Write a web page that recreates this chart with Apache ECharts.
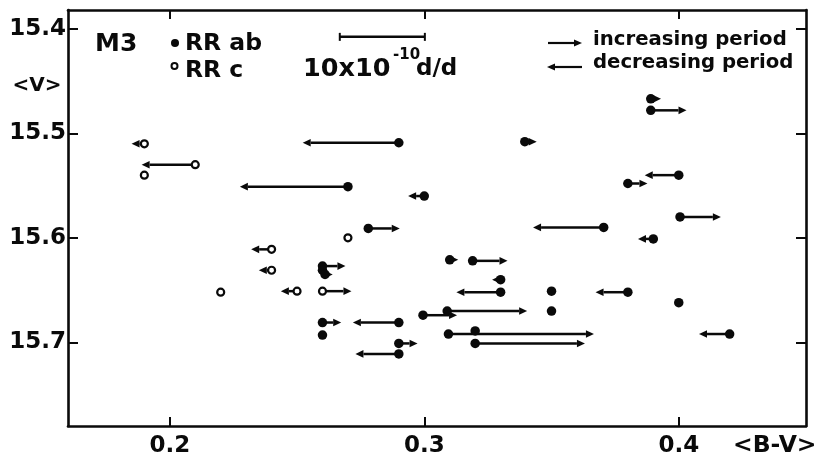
<!DOCTYPE html>
<html>
<head>
<meta charset="utf-8">
<script src="https://cdn.jsdelivr.net/npm/echarts@6/dist/echarts.min.js"></script>
<style>html,body{margin:0;padding:0;background:#fff}#c{width:823px;height:466px}</style>
</head>
<body>
<div id="c"></div>
<script>
// ---- data (B-V colour, mean V magnitude, period change rate in 1e-10 d/d) ----
const abBV   = [0.290, 0.270, 0.300, 0.278, 0.260, 0.260, 0.261, 0.260, 0.260, 0.290, 0.290, 0.290,
                0.389, 0.389, 0.3395, 0.400, 0.380, 0.4005, 0.3705, 0.390, 0.310, 0.319, 0.330, 0.330,
                0.350, 0.380, 0.400, 0.309, 0.350, 0.2995, 0.3095, 0.320, 0.320, 0.420];
const abV    = [15.509, 15.551, 15.560, 15.591, 15.627, 15.631, 15.635, 15.681, 15.693, 15.681, 15.701, 15.711,
                15.467, 15.478, 15.508, 15.540, 15.548, 15.580, 15.590, 15.601, 15.621, 15.622, 15.640, 15.652,
                15.651, 15.652, 15.662, 15.670, 15.670, 15.674, 15.692, 15.689, 15.701, 15.692];
const abRate = [-11.3, -12.7, -1.9, 3.7, 2.7, 0, 0.9, 2.2, 0, -5.4, 2.2, -5.1,
                1.2, 4.2, 1.4, -4.0, 2.3, 4.8, -8.3, -1.8, 1.0, 4.1, -1.0, -5.2,
                0, -3.8, 0, 9.4, 0, 4.0, 17.1, 0, 12.9, -3.6];

const cBV    = [0.190, 0.210, 0.190, 0.270, 0.240, 0.240, 0.250, 0.220, 0.260];
const cV     = [15.510, 15.530, 15.540, 15.600, 15.611, 15.631, 15.651, 15.652, 15.651];
const cRate  = [-1.5, -6.3, 0, 0, -2.4, -1.5, -1.9, 0, 3.4];

const xTicks = [0.2, 0.3, 0.4];
const yTicks = [15.4, 15.5, 15.6, 15.7];
const scaleBar = [0.2668, 15.4077, 10];   // 10 x 1e-10 d/d reference bar
const UNIT = 0.003343;                      // B-V units per 1e-10 d/d (from scale bar)

const INK = '#0a0a0a';
const FONT = 'DejaVu Sans';

const arrowData = [];
abBV.forEach((b, i) => { if (abRate[i] !== 0) arrowData.push([b, abV[i], abRate[i]]); });
cBV.forEach((b, i) => { if (cRate[i] !== 0) arrowData.push([b, cV[i], cRate[i]]); });

function renderArrow(params, api) {
  const x = api.value(0), y = api.value(1), r = api.value(2);
  const p0 = api.coord([x, y]);
  const p1 = api.coord([x + r * UNIT, y]);
  const dir = p1[0] >= p0[0] ? 1 : -1;
  const head = 8, hw = 3.8;
  const base = p1[0] - dir * head;
  return {
    type: 'group',
    children: [
      { type: 'line', shape: { x1: p0[0], y1: p0[1], x2: base, y2: p1[1] }, style: { stroke: INK, lineWidth: 2.5 } },
      { type: 'polygon', shape: { points: [[p1[0], p1[1]], [base, p1[1] - hw], [base, p1[1] + hw]] }, style: { fill: INK } }
    ]
  };
}

function renderScale(params, api) {
  const x = api.value(0), y = api.value(1), r = api.value(2);
  const p0 = api.coord([x, y]);
  const p1 = api.coord([x + r * UNIT, y]);
  return {
    type: 'group',
    children: [
      { type: 'line', shape: { x1: p0[0], y1: p0[1], x2: p1[0], y2: p1[1] }, style: { stroke: INK, lineWidth: 2.5 } },
      { type: 'line', shape: { x1: p0[0], y1: p0[1] - 4, x2: p0[0], y2: p0[1] + 4 }, style: { stroke: INK, lineWidth: 2 } },
      { type: 'line', shape: { x1: p1[0], y1: p1[1] - 4, x2: p1[0], y2: p1[1] + 4 }, style: { stroke: INK, lineWidth: 2 } }
    ]
  };
}

const axisLine = { show: true, lineStyle: { color: INK, width: 2.6 } };
const xTick = { show: true, inside: true, length: 9, customValues: xTicks, lineStyle: { color: INK, width: 2 } };
const yTick = { show: true, inside: true, length: 10, customValues: yTicks, lineStyle: { color: INK, width: 2 } };

function txt(text, x, y, size, align) {
  return { type: 'text', x: x, y: y, style: { text: text, font: 'bold ' + size + 'px "' + FONT + '"', fill: INK,
           textAlign: align || 'left', textVerticalAlign: 'middle' } };
}

const chart = echarts.init(document.getElementById('c'), null, { renderer: 'canvas' });
chart.setOption({
  animation: false,
  backgroundColor: '#fff',
  grid: { left: 68, right: 17, top: 10, bottom: 40 },
  xAxis: [
    { type: 'value', position: 'bottom', min: 0.16, max: 0.45, axisLine: axisLine, axisTick: xTick,
      splitLine: { show: false },
      axisLabel: { customValues: xTicks, formatter: v => v.toFixed(1), color: INK, fontSize: 23, fontWeight: 'bold',
                   fontFamily: FONT, margin: 9 } },
    { type: 'value', position: 'top', min: 0.16, max: 0.45, axisLine: axisLine, axisTick: xTick,
      splitLine: { show: false }, axisLabel: { show: false } }
  ],
  yAxis: [
    { type: 'value', position: 'left', inverse: true, min: 15.382, max: 15.78, axisLine: axisLine, axisTick: yTick,
      splitLine: { show: false },
      axisLabel: { customValues: yTicks, formatter: v => v.toFixed(1), color: INK, fontSize: 23, fontWeight: 'bold',
                   fontFamily: FONT, margin: 2 } },
    { type: 'value', position: 'right', inverse: true, min: 15.382, max: 15.78, axisLine: axisLine, axisTick: yTick,
      splitLine: { show: false }, axisLabel: { show: false } }
  ],
  series: [
    { type: 'custom', name: 'period change', renderItem: renderArrow, data: arrowData, z: 2, silent: true },
    { type: 'custom', name: 'scale', renderItem: renderScale, data: [scaleBar], z: 2, silent: true },
    { type: 'scatter', name: 'RR ab', data: abBV.map((b, i) => [b, abV[i]]), symbol: 'circle', symbolSize: 9.5,
      itemStyle: { color: INK, opacity: 1 }, z: 3 },
    { type: 'scatter', name: 'RR c', data: cBV.map((b, i) => [b, cV[i]]), symbol: 'circle', symbolSize: 7,
      itemStyle: { color: '#fff', borderColor: INK, borderWidth: 2.2, opacity: 1 }, z: 4 }
  ],
  graphic: [
    txt('M3', 95, 44, 25),
    { type: 'circle', shape: { cx: 175, cy: 43, r: 4 }, style: { fill: INK } },
    txt('RR ab', 185, 44, 23.5),
    { type: 'circle', shape: { cx: 174.5, cy: 66, r: 3 }, style: { fill: '#fff', stroke: INK, lineWidth: 2 } },
    txt('RR c', 185, 71, 23.5),
    txt('10x10', 303, 69, 25.5),
    txt('-10', 393, 55, 15),
    txt('d/d', 416, 69, 23),
    { type: 'line', shape: { x1: 548, y1: 43, x2: 574, y2: 43 }, style: { stroke: INK, lineWidth: 2.2 } },
    { type: 'polygon', shape: { points: [[582, 43], [574, 39.5], [574, 46.5]] }, style: { fill: INK } },
    txt('increasing period', 593, 40, 19.7),
    { type: 'line', shape: { x1: 555, y1: 67, x2: 582, y2: 67 }, style: { stroke: INK, lineWidth: 2.2 } },
    { type: 'polygon', shape: { points: [[547, 67], [555, 63.5], [555, 70.5]] }, style: { fill: INK } },
    txt('decreasing period', 593, 63, 19.7),
    txt('<V>', 37, 86, 20, 'center'),
    txt('<B-V>', 733, 446, 23.5)
  ]
});
</script>
</body>
</html>
